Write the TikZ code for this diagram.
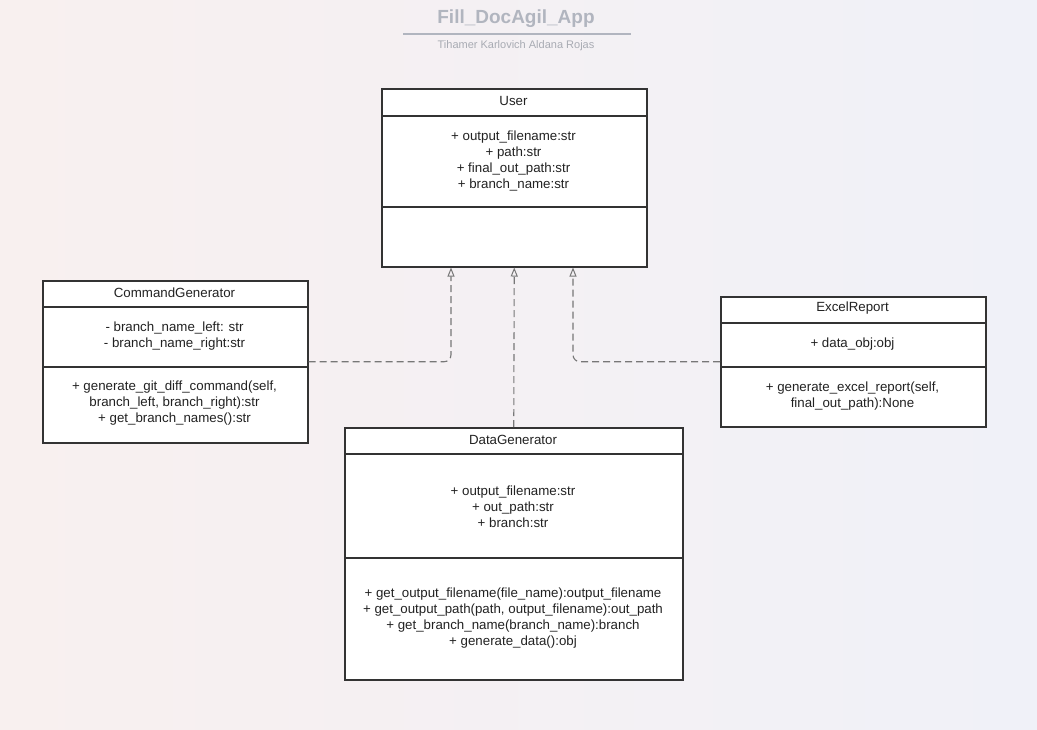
\documentclass[tikz,border=0pt]{standalone}
\usepackage{fontspec}
\setmainfont{Liberation Sans}
\usetikzlibrary{arrows.meta,calc}
\definecolor{bgleft}{HTML}{F8F0EF}
\definecolor{bgright}{HTML}{F0F1F8}
\definecolor{boxedge}{HTML}{333333}
\definecolor{inktext}{HTML}{222222}
\definecolor{depline}{HTML}{777777}
\definecolor{titlegray}{HTML}{B1B5BF}
\definecolor{subgray}{HTML}{A8ABB3}
\tikzset{
  umlbox/.style={draw=boxedge, line width=1.5pt, fill=white, inner sep=0pt, anchor=north west},
  divider/.style={draw=boxedge, line width=1.5pt},
  txt/.style={text=inktext, font=\fontsize{13.3}{16}\selectfont, align=center, inner sep=0pt},
  dep/.style={draw=depline, line width=1.1pt, dash pattern=on 7pt off 4pt, rounded corners=7pt,
    -{Triangle[open, length=9pt, width=7pt, line width=1pt]}}
}
\begin{document}
\begin{tikzpicture}[x=1pt,y=-1pt]
\useasboundingbox (0,0) rectangle (1037,729);
% soft background
\shade[left color=bgleft, right color=bgright] (0,0) rectangle (1037,729);

% title block
\node[text=titlegray, font=\fontsize{19}{23}\selectfont\bfseries, inner sep=0pt] (title) at (516,19) {Fill\_DocAgil\_App};
\draw[titlegray, line width=1.6pt] (403,34) -- (631,34);
\node[text=subgray, font=\fontsize{11}{13}\selectfont, inner sep=0pt] (author) at (516,45.5) {Tihamer Karlovich Aldana Rojas};

% User
\node[umlbox, minimum width=265pt, minimum height=178pt] (user) at (381,88) {};
\draw[divider] (381,116) -- (646,116);
\draw[divider] (381,207) -- (646,207);
\node[txt] (user-name) at (513.5,101) {User};
\node[txt] (user-attr) at (513.5,161) {+ output\_filename:str\\+ path:str\\+ final\_out\_path:str\\+ branch\_name:str};

% CommandGenerator
\node[umlbox, minimum width=265pt, minimum height=162pt] (cmd) at (42,280) {};
\draw[divider] (42,307) -- (307,307);
\draw[divider] (42,367) -- (307,367);
\node[txt] (cmd-name) at (174.5,292.5) {CommandGenerator};
\node[txt] (cmd-attr) at (174.5,336.5) {- branch\_name\_left: str\\- branch\_name\_right:str};
\node[txt] (cmd-ops) at (174.5,403.5) {+ generate\_git\_diff\_command(self,\\branch\_left, branch\_right):str\\+ get\_branch\_names():str};

% ExcelReport
\node[umlbox, minimum width=265pt, minimum height=130pt] (xls) at (720,296) {};
\draw[divider] (720,323) -- (985,323);
\draw[divider] (720,367) -- (985,367);
\node[txt] (xls-name) at (852.5,308.5) {ExcelReport};
\node[txt] (xls-attr) at (852.5,344.5) {+ data\_obj:obj};
\node[txt] (xls-ops) at (852.5,396.5) {+ generate\_excel\_report(self,\\final\_out\_path):None};

% DataGenerator
\node[umlbox, minimum width=338pt, minimum height=252pt] (data) at (344,427) {};
\draw[divider] (344,454) -- (682,454);
\draw[divider] (344,558) -- (682,558);
\node[txt] (data-name) at (513,439.5) {DataGenerator};
\node[txt] (data-attr) at (513,506.5) {+ output\_filename:str\\+ out\_path:str\\+ branch:str};
\node[txt] (data-ops) at (513,618.5) {+ get\_output\_filename(file\_name):output\_filename\\+ get\_output\_path(path, output\_filename):out\_path\\+ get\_branch\_name(branch\_name):branch\\+ generate\_data():obj};

% dependency ends on the User box
\coordinate (uL) at ($(user.south west)+(70,0)$);
\coordinate (uM) at (user.south);
\coordinate (uR) at ($(user.south west)+(192,0)$);

\draw[dep] (cmd.east) -| (uL);
\draw[dep] (data.north) -- (uM);
\draw[dep] (xls.west) -| (uR);
\end{tikzpicture}
\end{document}
